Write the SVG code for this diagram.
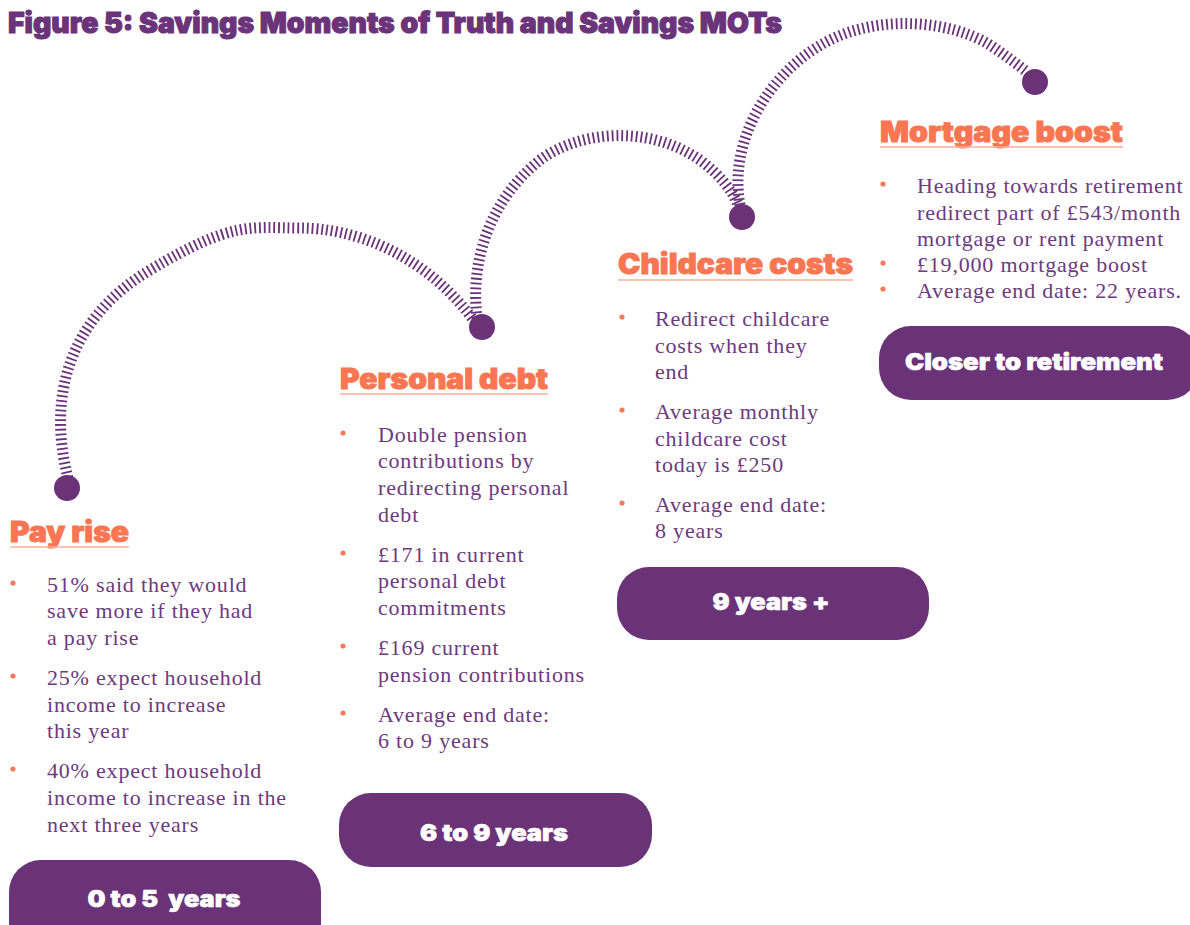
<svg xmlns="http://www.w3.org/2000/svg" width="1190" height="925" viewBox="0 0 1190 925">
<style>
.title{font-family:Inter,"Liberation Sans",sans-serif;font-weight:900;font-size:29px;fill:#6b3379;stroke:#6b3379;stroke-width:1.1px}
.head{font-family:Inter,"Liberation Sans",sans-serif;font-weight:900;font-size:28px;fill:#fa7652;stroke:#fa7652;stroke-width:0.9px}
.uline{stroke:#fbae98;stroke-width:1.6}
.body{font-family:"Liberation Serif","Times New Roman",serif;font-size:22px;fill:#6d3a7e;letter-spacing:0.8px}
.bullet{fill:#f47a5c}
.pill{fill:#6a3277}
.pilltxt{font-family:Inter,"Liberation Sans",sans-serif;font-weight:900;font-size:23px;fill:#ffffff;stroke:#ffffff;stroke-width:0.6px;text-anchor:middle}
.arc{fill:none;stroke:#6a3277;stroke-width:11;stroke-dasharray:1.8 3}
.dot{fill:#6a3277}
</style>
<rect width="1190" height="925" fill="#ffffff"/>
<text class="title" x="8" y="33" textLength="774" lengthAdjust="spacingAndGlyphs">Figure 5: Savings Moments of Truth and Savings MOTs</text>

<g id="connectors">
<path class="arc" d="M 68 478 C 48 400, 66 320, 150 270 S 250 228, 300 228 S 420 250, 472 318"/>
<path class="arc" d="M 477 318 C 470 260, 490 200, 540 160 C 580 130, 650 125, 700 160 C 720 175, 732 190, 738 205"/>
<path class="arc" d="M 740 205 C 728 140, 770 70, 830 40 C 880 15, 950 20, 990 45 C 1005 55, 1018 65, 1027 72"/>
<circle class="dot" cx="67" cy="488" r="13"/>
<circle class="dot" cx="482" cy="327" r="13"/>
<circle class="dot" cx="742" cy="217" r="13"/>
<circle class="dot" cx="1035" cy="82" r="13"/>
</g>

<g id="pay-rise">
<text class="head" x="10" y="542" textLength="119" lengthAdjust="spacingAndGlyphs">Pay rise</text>
<line class="uline" x1="10" y1="547" x2="129" y2="547"/>
<circle class="bullet" cx="13" cy="583" r="2.6"/>
<circle class="bullet" cx="13" cy="676" r="2.6"/>
<circle class="bullet" cx="13" cy="769" r="2.6"/>
<text class="body" x="47" y="592">51% said they would</text>
<text class="body" x="47" y="618">save more if they had</text>
<text class="body" x="47" y="645">a pay rise</text>
<text class="body" x="47" y="685">25% expect household</text>
<text class="body" x="47" y="712">income to increase</text>
<text class="body" x="47" y="738">this year</text>
<text class="body" x="47" y="778">40% expect household</text>
<text class="body" x="47" y="805">income to increase in the</text>
<text class="body" x="47" y="832">next three years</text>
<rect class="pill" x="9" y="860" width="312" height="100" rx="32"/>
<text class="pilltxt" x="164" y="907" textLength="153" lengthAdjust="spacingAndGlyphs" xml:space="preserve">0 to 5  years</text>
</g>

<g id="personal-debt">
<text class="head" x="340" y="389" textLength="208" lengthAdjust="spacingAndGlyphs">Personal debt</text>
<line class="uline" x1="340" y1="394" x2="548" y2="394"/>
<circle class="bullet" cx="343" cy="433" r="2.6"/>
<circle class="bullet" cx="343" cy="553" r="2.6"/>
<circle class="bullet" cx="343" cy="646" r="2.6"/>
<circle class="bullet" cx="343" cy="713" r="2.6"/>
<text class="body" x="378" y="442">Double pension</text>
<text class="body" x="378" y="468">contributions by</text>
<text class="body" x="378" y="495">redirecting personal</text>
<text class="body" x="378" y="522">debt</text>
<text class="body" x="378" y="562">£171 in current</text>
<text class="body" x="378" y="588">personal debt</text>
<text class="body" x="378" y="615">commitments</text>
<text class="body" x="378" y="655">£169 current</text>
<text class="body" x="378" y="682">pension contributions</text>
<text class="body" x="378" y="722">Average end date:</text>
<text class="body" x="378" y="748">6 to 9 years</text>
<rect class="pill" x="339" y="793" width="313" height="74" rx="32"/>
<text class="pilltxt" x="494" y="841" textLength="148" lengthAdjust="spacingAndGlyphs">6 to 9 years</text>
</g>

<g id="childcare-costs">
<text class="head" x="618" y="274" textLength="235" lengthAdjust="spacingAndGlyphs">Childcare costs</text>
<line class="uline" x1="618" y1="280" x2="853" y2="280"/>
<circle class="bullet" cx="622" cy="317" r="2.6"/>
<circle class="bullet" cx="622" cy="410" r="2.6"/>
<circle class="bullet" cx="622" cy="503" r="2.6"/>
<text class="body" x="655" y="326">Redirect childcare</text>
<text class="body" x="655" y="353">costs when they</text>
<text class="body" x="655" y="379">end</text>
<text class="body" x="655" y="419">Average monthly</text>
<text class="body" x="655" y="446">childcare cost</text>
<text class="body" x="655" y="472">today is £250</text>
<text class="body" x="655" y="512">Average end date:</text>
<text class="body" x="655" y="538">8 years</text>
<rect class="pill" x="617" y="567" width="312" height="73" rx="32"/>
<text class="pilltxt" x="771" y="610" textLength="117" lengthAdjust="spacingAndGlyphs">9 years +</text>
</g>

<g id="mortgage-boost">
<text class="head" x="880" y="142" textLength="243" lengthAdjust="spacingAndGlyphs">Mortgage boost</text>
<line class="uline" x1="880" y1="147" x2="1123" y2="147"/>
<circle class="bullet" cx="883" cy="184" r="2.6"/>
<circle class="bullet" cx="883" cy="263" r="2.6"/>
<circle class="bullet" cx="883" cy="289" r="2.6"/>
<text class="body" x="917" y="193">Heading towards retirement</text>
<text class="body" x="917" y="220">redirect part of £543/month</text>
<text class="body" x="917" y="246">mortgage or rent payment</text>
<text class="body" x="917" y="272">£19,000 mortgage boost</text>
<text class="body" x="917" y="298">Average end date: 22 years.</text>
<rect class="pill" x="879" y="326" width="320" height="74" rx="32"/>
<text class="pilltxt" x="1034" y="370" textLength="258" lengthAdjust="spacingAndGlyphs">Closer to retirement</text>
</g>
</svg>
